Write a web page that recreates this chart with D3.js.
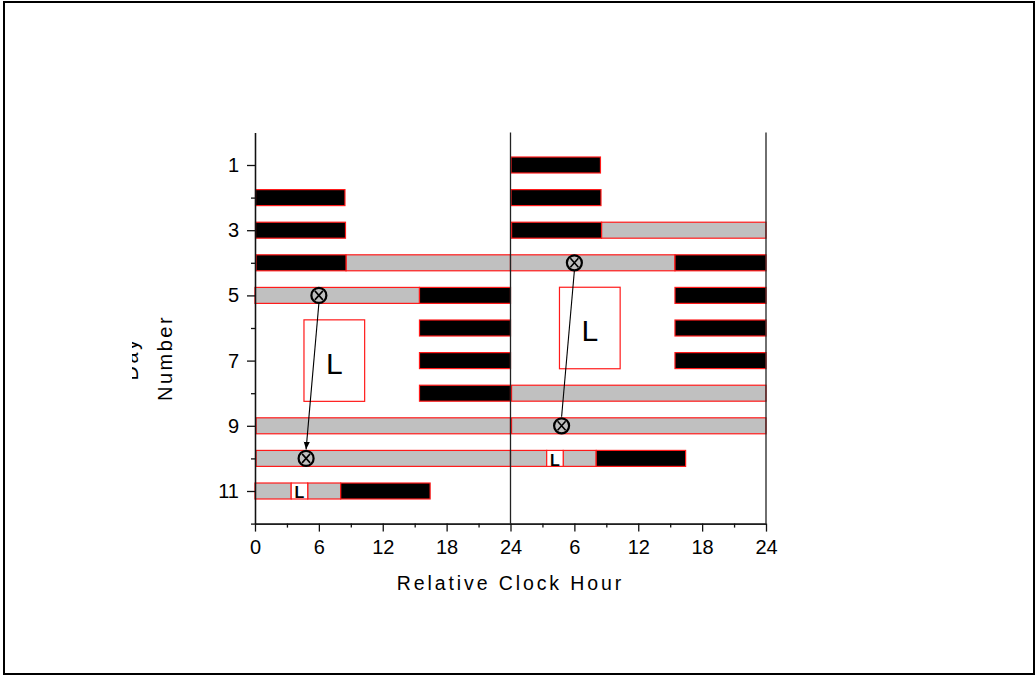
<!DOCTYPE html>
<html>
<head>
<meta charset="utf-8">
<script src="https://cdn.jsdelivr.net/npm/d3@7"></script>
<style>
  body { margin: 0; background: #fff; }
  text { font-family: "Liberation Sans", Arial, sans-serif; fill: #000; }
</style>
</head>
<body>
<script>
// double plotted raster: row n shows day n (0-24 h) and day n+1 (24-48 h)
var sleepDays  = [2, 3, 4, 5, 6, 7, 8, 11];
var sleepStart = [0.05, 0.05, 0.1, 15.45, 15.45, 15.45, 15.45, 8.05];
var sleepEnd   = [8.45, 8.5, 8.55, 24, 24, 24, 24, 16.45];

var wakeDays  = [4, 5, 9, 10, 11, 11];
var wakeStart = [8.55, 0, 0.1, 0.1, 0, 4.95];
var wakeEnd   = [24, 15.45, 24, 24, 3.4, 8.05];

var pulseDays  = [11];        // short light pulse inside a bar
var pulseStart = [3.4];
var pulseEnd   = [4.95];

var lightBoxDays  = [6, 8];    // big light exposure block, first and last day
var lightBoxHours = [4.6, 10.3];

var phaseDays  = [5, 10];
var phaseHours = [6.0, 4.8];

var xTickHours  = [0, 6, 12, 18, 24, 30, 36, 42, 48];
var xTickLabels = ["0", "6", "12", "18", "24", "6", "12", "18", "24"];
var xMinorHours = [3, 9, 15, 21, 27, 33, 39, 45];
var yTickDays   = [1, 3, 5, 7, 9, 11];
var yMinorDays  = [2, 4, 6, 8, 10, 12];

var width = 1036, height = 676;
var margin = {left: 255, right: 270, top: 132.4, bottom: 152.4};

var x = d3.scaleLinear().domain([0, 48]).range([margin.left, width - margin.right]);
var y = d3.scaleLinear().domain([0, 12]).range([margin.top, height - margin.bottom]);

var svg = d3.select("body").append("svg").attr("width", width).attr("height", height);

svg.append("rect")
   .attr("x", 4).attr("y", 2).attr("width", 1030).attr("height", 672)
   .attr("fill", "none").attr("stroke", "#000").attr("stroke-width", 2);

// build the bars for both halves of each row
function bouts(days, starts, ends, kind) {
  var out = [];
  days.forEach(function(d, i) {
    out.push({row: d, x0: starts[i], x1: ends[i], kind: kind});
    if (d - 1 >= 1) out.push({row: d - 1, x0: starts[i] + 24, x1: ends[i] + 24, kind: kind});
  });
  return out;
}
var bars = bouts(wakeDays, wakeStart, wakeEnd, "wake")
  .concat(bouts(sleepDays, sleepStart, sleepEnd, "sleep"))
  .concat(bouts(pulseDays, pulseStart, pulseEnd, "light"));

var fills = {wake: "#c0c0c0", sleep: "#000", light: "#fff"};
var half = 0.245;

svg.append("g").selectAll("rect").data(bars).enter().append("rect")
   .attr("x", function(d) { return x(d.x0); })
   .attr("y", function(d) { return y(d.row - half); })
   .attr("width", function(d) { return x(d.x1) - x(d.x0); })
   .attr("height", function(d) { return y(d.row + half) - y(d.row - half); })
   .attr("fill", function(d) { return fills[d.kind]; })
   .attr("stroke", "#ff1a1a").attr("stroke-width", 1.2);

svg.append("g").selectAll("text").data(bars.filter(function(d) { return d.kind == "light"; }))
   .enter().append("text")
   .attr("x", function(d) { return (x(d.x0) + x(d.x1)) / 2; })
   .attr("y", function(d) { return y(d.row + half) - 0.5; })
   .attr("text-anchor", "middle").attr("font-size", 16).attr("font-weight", "bold")
   .text("L");

// big light blocks
var boxes = [
  {r0: lightBoxDays[0], r1: lightBoxDays[1], h0: lightBoxHours[0], h1: lightBoxHours[1]},
  {r0: lightBoxDays[0] - 1, r1: lightBoxDays[1] - 1, h0: lightBoxHours[0] + 24, h1: lightBoxHours[1] + 24}
];
var boxG = svg.append("g").selectAll("g").data(boxes).enter().append("g");
boxG.append("rect")
   .attr("x", function(d) { return x(d.h0); })
   .attr("y", function(d) { return y(d.r0 - 0.25); })
   .attr("width", function(d) { return x(d.h1) - x(d.h0); })
   .attr("height", function(d) { return y(d.r1 + 0.25) - y(d.r0 - 0.25); })
   .attr("fill", "#fff").attr("stroke", "#ff1a1a").attr("stroke-width", 1.2);
boxG.append("text")
   .attr("x", function(d) { return (x(d.h0) + x(d.h1)) / 2; })
   .attr("y", function(d) { return (y(d.r0 - 0.25) + y(d.r1 + 0.25)) / 2 + 13; })
   .attr("text-anchor", "middle").attr("font-size", 30)
   .text("L");

// phase markers and shift arrows
var marks = [];
phaseDays.forEach(function(d, i) {
  marks.push({row: d, h: phaseHours[i]});
  marks.push({row: d - 1, h: phaseHours[i] + 24});
});

svg.append("defs").append("marker")
   .attr("id", "arrow").attr("viewBox", "0 0 10 10").attr("refX", 10).attr("refY", 5)
   .attr("markerWidth", 7).attr("markerHeight", 7).attr("orient", "auto")
   .append("path").attr("d", "M0,1L10,5L0,9Z").attr("fill", "#000");

var arrows = [
  {a: marks[0], b: marks[2], head: true},
  {a: marks[1], b: marks[3], head: false}
];
svg.append("g").selectAll("line").data(arrows).enter().append("line")
   .attr("x1", function(d) { return x(d.a.h); })
   .attr("y1", function(d) { return y(d.a.row) + 8; })
   .attr("x2", function(d) { return x(d.b.h); })
   .attr("y2", function(d) { return y(d.b.row) - 9; })
   .attr("stroke", "#000").attr("stroke-width", 1.1)
   .attr("marker-end", function(d) { return d.head ? "url(#arrow)" : null; });

var mk = svg.append("g").selectAll("g").data(marks).enter().append("g")
   .attr("transform", function(d) { return "translate(" + x(d.h) + "," + y(d.row) + ")"; });
mk.append("circle").attr("r", 7.5).attr("fill", "none").attr("stroke", "#000").attr("stroke-width", 2.2);
mk.append("path").attr("d", "M-4,-4.5L4,4.5M4,-4.5L-4,4.5")
   .attr("stroke", "#000").attr("stroke-width", 1.6);

// frame lines
svg.append("line").attr("x1", x(24)).attr("x2", x(24)).attr("y1", y(0)).attr("y2", y(12))
   .attr("stroke", "#222").attr("stroke-width", 1.3);
svg.append("line").attr("x1", x(48)).attr("x2", x(48)).attr("y1", y(0)).attr("y2", y(12))
   .attr("stroke", "#222").attr("stroke-width", 1.3);

// axes
var xAxis = d3.axisBottom(x).tickValues(xTickHours).tickSize(8).tickSizeOuter(0).tickPadding(8)
   .tickFormat(function(d, i) { return xTickLabels[i]; });
var xMinor = d3.axisBottom(x).tickValues(xMinorHours).tickSize(4).tickSizeOuter(0).tickFormat("");
var yAxis = d3.axisLeft(y).tickValues(yTickDays).tickSize(8).tickSizeOuter(0).tickPadding(8);
var yMinor = d3.axisLeft(y).tickValues(yMinorDays).tickSize(4).tickSizeOuter(0).tickFormat("");

function styleAxis(g) {
  g.selectAll("path, line").attr("stroke", "#111").attr("stroke-width", 1.3);
  g.selectAll("text").attr("font-size", 20).attr("font-family", "Liberation Sans, Arial, sans-serif").attr("fill", "#000");
}
svg.append("g").attr("transform", "translate(0," + y(12) + ")").call(xMinor).call(styleAxis);
svg.append("g").attr("transform", "translate(0," + y(12) + ")").call(xAxis).call(styleAxis);
svg.append("g").attr("transform", "translate(" + x(0) + ",0)").call(yMinor).call(styleAxis);
svg.append("g").attr("transform", "translate(" + x(0) + ",0)").call(yAxis).call(styleAxis);

// titles
svg.append("text")
   .attr("x", x(24)).attr("y", 589.5)
   .attr("text-anchor", "middle").attr("font-size", 19.5).attr("letter-spacing", 2.9)
   .text("Relative Clock Hour");

svg.append("clipPath").attr("id", "ttlclip")
   .append("rect").attr("x", 132).attr("y", 250).attr("width", 80).attr("height", 200);
var ttl = svg.append("g").attr("clip-path", "url(#ttlclip)");
ttl.append("text")
   .attr("transform", "translate(138,359) rotate(-90)")
   .attr("text-anchor", "middle").attr("font-size", 20).attr("letter-spacing", 2.5)
   .text("Day");
ttl.append("text")
   .attr("transform", "translate(171.5,358) rotate(-90)")
   .attr("text-anchor", "middle").attr("font-size", 20).attr("letter-spacing", 2.5)
   .text("Number");
</script>
</body>
</html>
